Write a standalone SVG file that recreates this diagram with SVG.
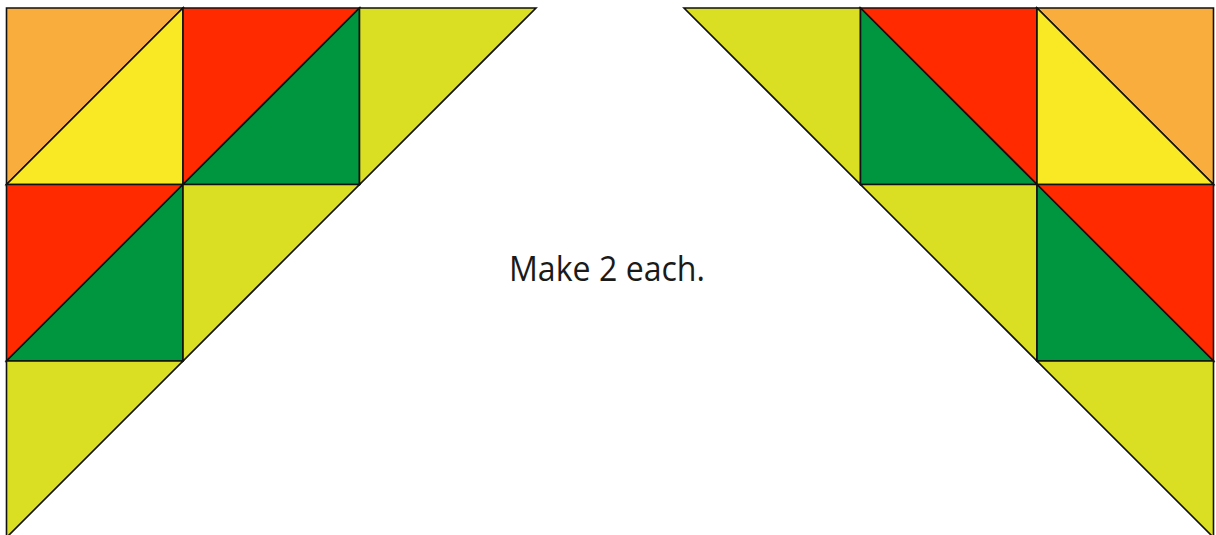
<svg xmlns="http://www.w3.org/2000/svg" width="1216" height="535" viewBox="0 0 1216 535">
<style>
polygon{stroke:#111;stroke-width:1.6;stroke-linejoin:miter}
.o{fill:#F8AD3D}.y{fill:#F9E824}.r{fill:#FF2A00}.g{fill:#00953F}.l{fill:#DADF24}
text{font-family:"Open Sans","Liberation Sans",sans-serif;font-size:34px;fill:#1a1a1a}
</style>
<rect width="1216" height="535" fill="#fff"/>
<g id="left">
<polygon class="o" points="6.5,8 183,8 6.5,184.5"/>
<polygon class="y" points="183,8 183,184.5 6.5,184.5"/>
<polygon class="r" points="183,8 359.5,8 183,184.5"/>
<polygon class="g" points="359.5,8 359.5,184.5 183,184.5"/>
<polygon class="l" points="359.5,8 536,8 359.5,184.5"/>
<polygon class="r" points="6.5,184.5 183,184.5 6.5,361"/>
<polygon class="g" points="183,184.5 183,361 6.5,361"/>
<polygon class="l" points="183,184.5 359.5,184.5 183,361"/>
<polygon class="l" points="6.5,361 183,361 6.5,537.5"/>
</g>
<g id="right">
<polygon class="l" points="684,8 860.5,8 860.5,184.5"/>
<polygon class="r" points="860.5,8 1037,8 1037,184.5"/>
<polygon class="g" points="860.5,8 1037,184.5 860.5,184.5"/>
<polygon class="o" points="1037,8 1213.5,8 1213.5,184.5"/>
<polygon class="y" points="1037,8 1213.5,184.5 1037,184.5"/>
<polygon class="l" points="860.5,184.5 1037,184.5 1037,361"/>
<polygon class="r" points="1037,184.5 1213.5,184.5 1213.5,361"/>
<polygon class="g" points="1037,184.5 1213.5,361 1037,361"/>
<polygon class="l" points="1037,361 1213.5,361 1213.5,537.5"/>
</g>
<g id="label">
<text x="509" y="281" textLength="196" lengthAdjust="spacingAndGlyphs">Make 2 each.</text>
</g>
</svg>
